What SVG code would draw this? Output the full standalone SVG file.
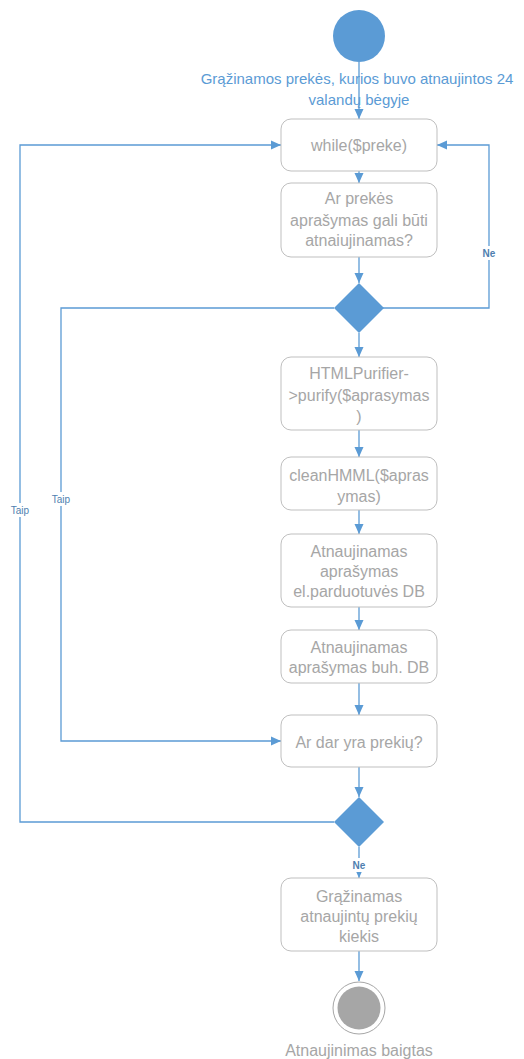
<svg xmlns="http://www.w3.org/2000/svg" width="524" height="1059" viewBox="0 0 524 1059">
  <style>
    .box { fill: #ffffff; stroke: #bfbfbf; stroke-width: 1; }
    .txt { font-family: "Liberation Sans", Arial, sans-serif; font-size: 16px; fill: #a6a6a6; text-anchor: middle; }
    .flow { fill: none; stroke: #5b9bd5; stroke-width: 1.3; marker-end: url(#arrow); }
    .dec { fill: #5b9bd5; }
    .lbl { font-family: "Liberation Sans", Arial, sans-serif; font-size: 10px; fill: #4f7fb0; text-anchor: middle; }
    .head { font-family: "Liberation Sans", Arial, sans-serif; font-size: 15px; fill: #5b9bd5; text-anchor: middle; }
  </style>
  <defs>
    <marker id="arrow" viewBox="0 0 10 10" refX="10" refY="5" markerWidth="10" markerHeight="10" markerUnits="userSpaceOnUse" orient="auto">
      <path d="M0,0.5 L10,5 L0,9.5 z" fill="#5b9bd5"/>
    </marker>
  </defs>

  <!-- connectors -->
  <g id="connectors">
    <line class="flow" x1="359" y1="62" x2="359" y2="119"/>
    <line class="flow" x1="359" y1="171" x2="359" y2="183"/>
    <line class="flow" x1="359" y1="257" x2="359" y2="283"/>
    <line class="flow" x1="359" y1="333" x2="359" y2="357"/>
    <line class="flow" x1="359" y1="430" x2="359" y2="457"/>
    <line class="flow" x1="359" y1="510" x2="359" y2="534"/>
    <line class="flow" x1="359" y1="607" x2="359" y2="630"/>
    <line class="flow" x1="359" y1="683" x2="359" y2="715"/>
    <line class="flow" x1="359" y1="767" x2="359" y2="797"/>
    <line class="flow" x1="359" y1="847" x2="359" y2="878"/>
    <line class="flow" x1="359" y1="951" x2="359" y2="981"/>
    <!-- Ne: back to while -->
    <polyline class="flow" points="383,308 489,308 489,145 437,145"/>
    <!-- Taip: into Ar dar yra prekiu -->
    <polyline class="flow" points="334,308 61,308 61,741 281,741"/>
    <!-- Taip: outer loop back to while -->
    <polyline class="flow" points="334,822 20,822 20,145 281,145"/>
    <!-- labels -->
    <rect x="477" y="246" width="24" height="14" fill="#ffffff"/>
    <text class="lbl" x="489" y="257" font-weight="bold">Ne</text>
    <rect x="46" y="492" width="30" height="14" fill="#ffffff"/>
    <text class="lbl" x="61" y="503">Taip</text>
    <rect x="5" y="503" width="30" height="14" fill="#ffffff"/>
    <text class="lbl" x="20" y="514">Taip</text>
    <rect x="347" y="858" width="24" height="14" fill="#ffffff"/>
    <text class="lbl" x="359" y="869" font-weight="bold">Ne</text>
  </g>

  <g id="start">
    <circle cx="359" cy="36" r="26" fill="#5b9bd5"/>
    <text class="head" x="357" y="84">Grąžinamos prekės, kurios buvo atnaujintos 24</text>
    <text class="head" x="359" y="105">valandų bėgyje</text>
  </g>

  <g id="while">
    <rect class="box" x="281" y="119" width="156" height="52" rx="10"/>
    <text class="txt" x="359" y="150.5">while($preke)</text>
  </g>

  <g id="ar-prekes">
    <rect class="box" x="281" y="183" width="156" height="74" rx="10"/>
    <text class="txt" x="359" y="204">Ar prekės</text>
    <text class="txt" x="359" y="225.5">aprašymas gali būti</text>
    <text class="txt" x="359" y="246">atnaiujinamas?</text>
  </g>

  <g id="decision1">
    <polygon class="dec" points="359,283 384,308 359,333 334,308"/>
  </g>

  <g id="purify">
    <rect class="box" x="281" y="357" width="156" height="73" rx="10"/>
    <text class="txt" x="359" y="379">HTMLPurifier-</text>
    <text class="txt" x="359" y="400.5">&gt;purify($aprasymas</text>
    <text class="txt" x="359" y="422">)</text>
  </g>

  <g id="clean">
    <rect class="box" x="281" y="457" width="156" height="53" rx="10"/>
    <text class="txt" x="359" y="480.5">cleanHMML($apras</text>
    <text class="txt" x="359" y="501.5">ymas)</text>
  </g>

  <g id="update-shop">
    <rect class="box" x="281" y="534" width="156" height="73" rx="10"/>
    <text class="txt" x="359" y="557">Atnaujinamas</text>
    <text class="txt" x="359" y="576.5">aprašymas</text>
    <text class="txt" x="359" y="597">el.parduotuvės DB</text>
  </g>

  <g id="update-buh">
    <rect class="box" x="281" y="630" width="156" height="53" rx="10"/>
    <text class="txt" x="359" y="653">Atnaujinamas</text>
    <text class="txt" x="359" y="673">aprašymas buh. DB</text>
  </g>

  <g id="more">
    <rect class="box" x="281" y="715" width="156" height="52" rx="10"/>
    <text class="txt" x="359" y="748">Ar dar yra prekių?</text>
  </g>

  <g id="decision2">
    <polygon class="dec" points="359,797 384,822 359,847 334,822"/>
  </g>

  <g id="count">
    <rect class="box" x="281" y="878" width="156" height="73" rx="10"/>
    <text class="txt" x="359" y="902">Grąžinamas</text>
    <text class="txt" x="359" y="922">atnaujintų prekių</text>
    <text class="txt" x="359" y="942">kiekis</text>
  </g>

  <g id="end">
    <circle cx="359" cy="1008" r="26" fill="#ffffff" stroke="#a6a6a6" stroke-width="1"/>
    <circle cx="359" cy="1008" r="21.5" fill="#a6a6a6"/>
    <text class="txt" x="359" y="1056">Atnaujinimas baigtas</text>
  </g>
</svg>
